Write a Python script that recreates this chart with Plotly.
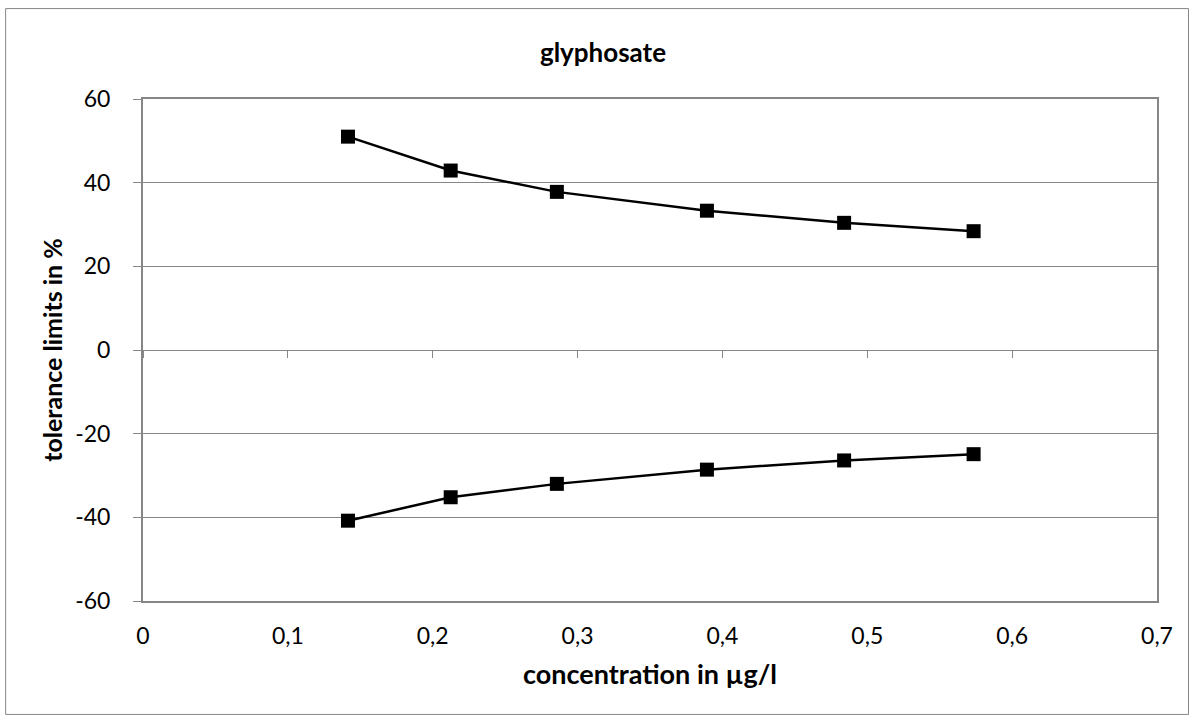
import plotly.graph_objects as go

# data
concentration = [0.1415, 0.2124, 0.2857, 0.3893, 0.4840, 0.5734]
upper_limit = [51.0, 42.9, 37.8, 33.3, 30.4, 28.4]
lower_limit = [-40.8, -35.2, -32.0, -28.6, -26.4, -24.9]
x_ticks = [0, 0.1, 0.2, 0.3, 0.4, 0.5, 0.6, 0.7]
x_ticktext = ["0", "0,1", "0,2", "0,3", "0,4", "0,5", "0,6", "0,7"]
y_ticks = [-60, -40, -20, 0, 20, 40, 60]
y_ticktext = ["-60", "-40", "-20", "0", "20", "40", "60"]

FONT = "Lato, Open Sans, sans-serif"
GRAY = "#868686"

fig = go.Figure()
for ys in (upper_limit, lower_limit):
    fig.add_trace(go.Scatter(
        x=concentration, y=ys, mode="lines+markers",
        line=dict(color="black", width=2.5),
        marker=dict(symbol="square", size=14, color="black"),
        showlegend=False, hoverinfo="x+y"
    ))

W, H = 1194, 719
L, R, T, B = 142.5, 36.5, 99.3, 118.3
pw, ph = W - L - R, H - T - B

fig.update_layout(
    width=W, height=H,
    margin=dict(l=L, r=R, t=T, b=B),
    paper_bgcolor="white", plot_bgcolor="white",
    font=dict(family=FONT, size=23, color="black"),
    title=dict(text="<b>glyphosate</b>", x=603 / W, xref="container",
               xanchor="center", y=1 - 53 / H,
               yref="container", yanchor="middle", font=dict(size=26)),
    xaxis=dict(
        range=[0, 0.7], tickvals=x_ticks, ticktext=x_ticktext,
        showgrid=False, zeroline=False, showline=True, linecolor=GRAY, linewidth=2,
        mirror=True, ticks="", ticklabelstandoff=13,
        title=dict(text="<b>concentration in µg/l</b>", font=dict(size=27), standoff=18),
    ),
    xaxis2=dict(
        range=[0, 0.7], tickvals=x_ticks, overlaying="x", anchor="free", position=0.5,
        side="bottom", showticklabels=False, ticks="outside", ticklen=7,
        tickcolor=GRAY, tickwidth=1, showgrid=False, zeroline=False, showline=False,
    ),
    yaxis=dict(
        range=[-60, 60], tickvals=y_ticks, ticktext=y_ticktext,
        showgrid=True, gridcolor=GRAY, gridwidth=1, zeroline=False,
        showline=True, linecolor=GRAY, linewidth=2, mirror=True,
        ticks="outside", ticklen=8, tickcolor=GRAY, ticklabelstandoff=18,
        title=dict(text="<b>tolerance limits in %</b>", font=dict(size=25), standoff=5),
    ),
)

# invisible trace so the tick-only axis at y = 0 gets drawn
fig.add_trace(go.Scatter(x=[concentration[0]], y=[0], xaxis="x2", mode="markers",
                         marker=dict(opacity=0), showlegend=False, hoverinfo="skip"))

# outer chart frame
fig.add_shape(type="rect", xref="paper", yref="paper",
              x0=(5 - L) / pw, x1=(1189 - L) / pw,
              y0=-(714 - (H - B)) / ph, y1=((H - B) - 9) / ph,
              line=dict(color=GRAY, width=1), layer="below")

# drop the default 8px body margin so the figure sits at the page corner
fig.write_html("out.html", config={"displayModeBar": False},
               post_script="document.body.style.margin = '0';")
